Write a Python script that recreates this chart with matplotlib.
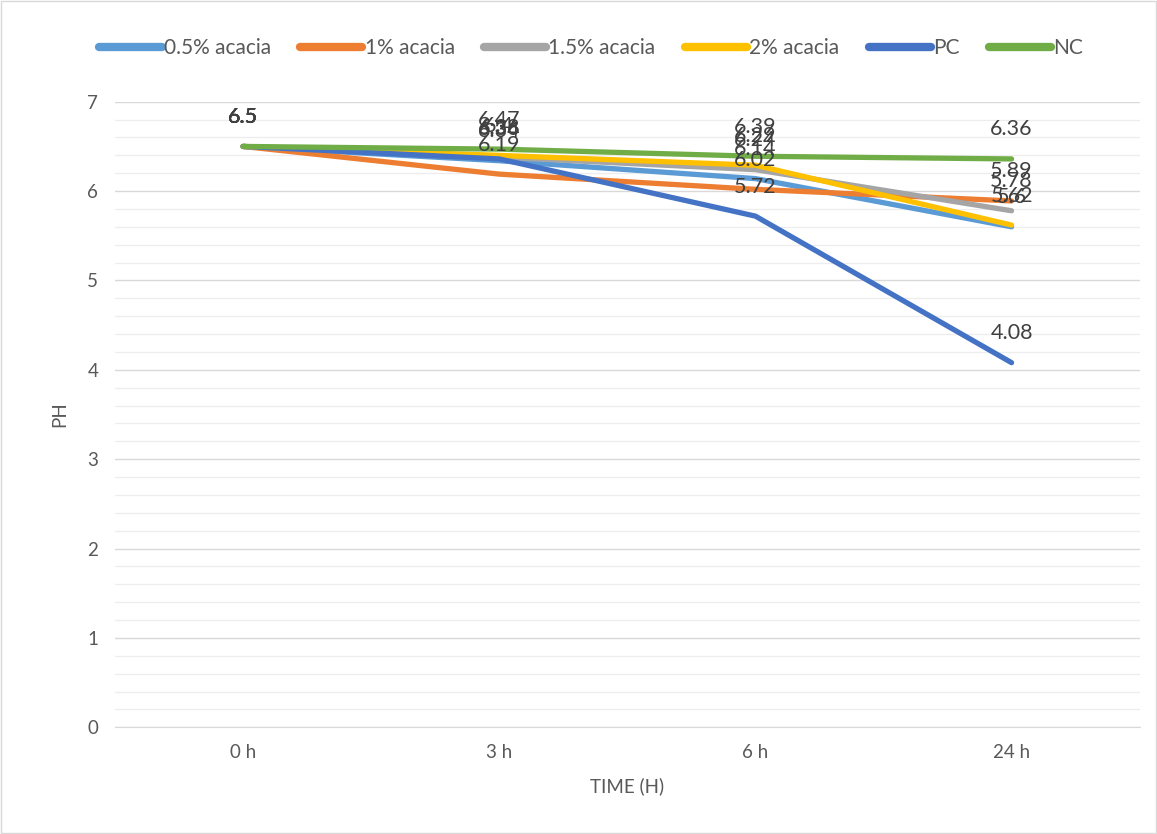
import matplotlib
matplotlib.use("Agg")
import matplotlib.pyplot as plt
from matplotlib.ticker import MultipleLocator
from matplotlib.lines import Line2D

plt.rcParams['font.family'] = ['Lato', 'DejaVu Sans']

categories = ["0 h", "3 h", "6 h", "24 h"]
series_names = ["0.5% acacia", "1% acacia", "1.5% acacia", "2% acacia", "PC", "NC"]
v_05 = [6.5, 6.34, 6.14, 5.6]
v_1 = [6.5, 6.19, 6.02, 5.89]
v_15 = [6.5, 6.38, 6.24, 5.78]
v_2 = [6.5, 6.4, 6.29, 5.62]
v_pc = [6.5, 6.36, 5.72, 4.08]
v_nc = [6.5, 6.47, 6.39, 6.36]
colors = ["#5B9BD5", "#ED7D31", "#A5A5A5", "#FFC000", "#4472C4", "#70AD47"]
all_vals = [v_05, v_1, v_15, v_2, v_pc, v_nc]

fig = plt.figure(figsize=(11.57, 8.34), dpi=100)
ax = fig.add_axes([0.0994, 0.128, 0.8856, 0.750])

x = list(range(len(categories)))
for name, vals, c in zip(series_names, all_vals, colors):
    ax.plot(x, vals, color=c, lw=3.8, solid_capstyle='round', solid_joinstyle='round', label=name, zorder=3)
    for xi, v in zip(x, vals):
        ax.annotate(f"{v:g}", (xi, v), xytext=(0, 14), textcoords='offset points',
                    ha='center', va='bottom', fontsize=15.5, color='#404040', zorder=4)

ax.set_xlim(-0.5, 3.5)
ax.set_ylim(0, 7)
ax.set_xticks(x)
ax.set_xticklabels(categories)
ax.yaxis.set_major_locator(MultipleLocator(1))
ax.yaxis.set_minor_locator(MultipleLocator(0.2))
ax.grid(axis='y', which='major', color='#D9D9D9', lw=1.0, zorder=0)
ax.grid(axis='y', which='minor', color='#EDEDED', lw=0.9, zorder=0)
for s in ['top', 'right', 'left']:
    ax.spines[s].set_visible(False)
ax.spines['bottom'].set_color('#D9D9D9')
ax.tick_params(axis='both', which='both', length=0, labelsize=13.5, labelcolor='#595959', pad=12)
ax.set_xlabel("TIME (H)", fontsize=13.5, color='#595959', labelpad=12)
ax.set_ylabel("PH", fontsize=13.5, color='#595959', labelpad=14)

handles = [Line2D([0], [0], color=c, lw=6, solid_capstyle='round') for c in colors]
fig.legend(handles, series_names, loc='center', bbox_to_anchor=(0.511, 0.942), ncol=6,
           frameon=False, fontsize=15, handlelength=3.0, handletextpad=0.1, columnspacing=1.4,
           labelcolor='#595959')

fig.patches.append(plt.Rectangle((0.001, 0.001), 0.998, 0.998, transform=fig.transFigure,
                                 fill=False, edgecolor='#D9D9D9', lw=1))
fig.savefig("out.png", dpi=100)
